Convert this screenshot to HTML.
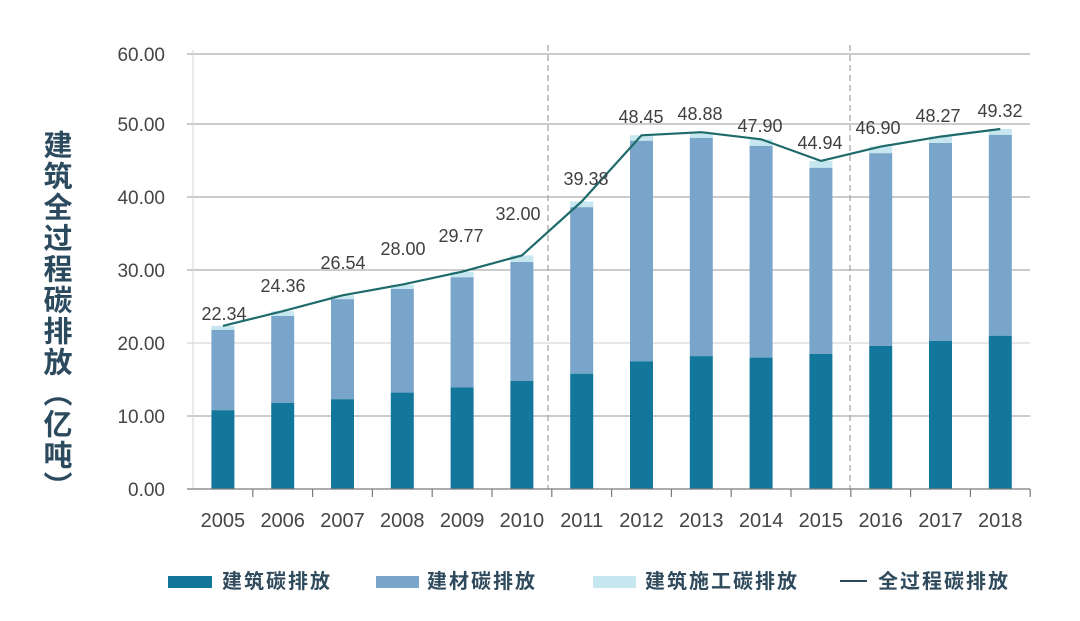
<!DOCTYPE html>
<html>
<head>
<meta charset="utf-8">
<style>
  html,body{margin:0;padding:0;background:#fff;}
  body{width:1080px;height:621px;position:relative;overflow:hidden;}
  svg{position:absolute;left:0;top:0;}
  .title{position:absolute;left:40px;top:130px;writing-mode:vertical-rl;
    font-family:"Liberation Sans","Noto Sans CJK SC",sans-serif;font-weight:bold;
    font-size:29px;line-height:29px;letter-spacing:2px;color:#2c4a5e;}
</style>
</head>
<body>
<svg width="1080" height="621" viewBox="0 0 1080 621" xmlns="http://www.w3.org/2000/svg">
  <g stroke="#9a9a9a" stroke-width="1">
    <line x1="187" y1="54" x2="1030" y2="54"/>
    <line x1="187" y1="124" x2="1030" y2="124"/>
    <line x1="187" y1="197" x2="1030" y2="197"/>
    <line x1="187" y1="270" x2="1030" y2="270"/>
    <line x1="187" y1="343" x2="1030" y2="343" stroke="#cfcfcf"/>
    <line x1="187" y1="416" x2="1030" y2="416"/>
  </g>
  <line x1="193" y1="50" x2="193" y2="489" stroke="#d4d4d4" stroke-width="1"/>
  <g stroke="#a0a0a0" stroke-width="1.2" stroke-dasharray="6,4">
    <line x1="548" y1="45" x2="548" y2="489"/>
    <line x1="850" y1="45" x2="850" y2="489"/>
  </g>
  <g>
    <rect x="211.4" y="325.9" width="23" height="4.0" fill="#c6e7ef"/>
    <rect x="211.4" y="329.9" width="23" height="80.3" fill="#7aa5ca"/>
    <rect x="211.4" y="410.2" width="23" height="78.8" fill="#13779c"/>
    <rect x="271.2" y="311.2" width="23" height="4.8" fill="#c6e7ef"/>
    <rect x="271.2" y="316.0" width="23" height="86.9" fill="#7aa5ca"/>
    <rect x="271.2" y="402.9" width="23" height="86.1" fill="#13779c"/>
    <rect x="331.0" y="295.3" width="23" height="3.9" fill="#c6e7ef"/>
    <rect x="331.0" y="299.2" width="23" height="100.0" fill="#7aa5ca"/>
    <rect x="331.0" y="399.2" width="23" height="89.8" fill="#13779c"/>
    <rect x="390.8" y="284.6" width="23" height="4.4" fill="#c6e7ef"/>
    <rect x="390.8" y="289.0" width="23" height="103.6" fill="#7aa5ca"/>
    <rect x="390.8" y="392.6" width="23" height="96.4" fill="#13779c"/>
    <rect x="450.6" y="271.7" width="23" height="5.6" fill="#c6e7ef"/>
    <rect x="450.6" y="277.3" width="23" height="110.2" fill="#7aa5ca"/>
    <rect x="450.6" y="387.5" width="23" height="101.5" fill="#13779c"/>
    <rect x="510.4" y="255.4" width="23" height="6.6" fill="#c6e7ef"/>
    <rect x="510.4" y="262.0" width="23" height="119.0" fill="#7aa5ca"/>
    <rect x="510.4" y="381.0" width="23" height="108.0" fill="#13779c"/>
    <rect x="570.2" y="201.5" width="23" height="5.7" fill="#c6e7ef"/>
    <rect x="570.2" y="207.2" width="23" height="166.5" fill="#7aa5ca"/>
    <rect x="570.2" y="373.7" width="23" height="115.3" fill="#13779c"/>
    <rect x="630.0" y="135.3" width="23" height="5.5" fill="#c6e7ef"/>
    <rect x="630.0" y="140.8" width="23" height="220.5" fill="#7aa5ca"/>
    <rect x="630.0" y="361.3" width="23" height="127.7" fill="#13779c"/>
    <rect x="689.8" y="132.2" width="23" height="5.7" fill="#c6e7ef"/>
    <rect x="689.8" y="137.9" width="23" height="218.2" fill="#7aa5ca"/>
    <rect x="689.8" y="356.1" width="23" height="132.9" fill="#13779c"/>
    <rect x="749.6" y="139.3" width="23" height="6.6" fill="#c6e7ef"/>
    <rect x="749.6" y="145.9" width="23" height="211.7" fill="#7aa5ca"/>
    <rect x="749.6" y="357.6" width="23" height="131.4" fill="#13779c"/>
    <rect x="809.4" y="160.9" width="23" height="6.9" fill="#c6e7ef"/>
    <rect x="809.4" y="167.8" width="23" height="186.2" fill="#7aa5ca"/>
    <rect x="809.4" y="354.0" width="23" height="135.0" fill="#13779c"/>
    <rect x="869.2" y="146.6" width="23" height="6.6" fill="#c6e7ef"/>
    <rect x="869.2" y="153.2" width="23" height="192.7" fill="#7aa5ca"/>
    <rect x="869.2" y="345.9" width="23" height="143.1" fill="#13779c"/>
    <rect x="929.0" y="136.6" width="23" height="6.4" fill="#c6e7ef"/>
    <rect x="929.0" y="143.0" width="23" height="197.8" fill="#7aa5ca"/>
    <rect x="929.0" y="340.8" width="23" height="148.2" fill="#13779c"/>
    <rect x="988.8" y="129.0" width="23" height="5.9" fill="#c6e7ef"/>
    <rect x="988.8" y="134.9" width="23" height="200.8" fill="#7aa5ca"/>
    <rect x="988.8" y="335.7" width="23" height="153.3" fill="#13779c"/>
  </g>
  <line x1="187" y1="489" x2="1030" y2="489" stroke="#7a7a7a" stroke-width="1.2"/>
  <g stroke="#7a7a7a" stroke-width="1.2">
    <line x1="252.8" y1="489" x2="252.8" y2="497"/>
    <line x1="312.6" y1="489" x2="312.6" y2="497"/>
    <line x1="372.4" y1="489" x2="372.4" y2="497"/>
    <line x1="432.2" y1="489" x2="432.2" y2="497"/>
    <line x1="492.0" y1="489" x2="492.0" y2="497"/>
    <line x1="551.8" y1="489" x2="551.8" y2="497"/>
    <line x1="611.6" y1="489" x2="611.6" y2="497"/>
    <line x1="671.4" y1="489" x2="671.4" y2="497"/>
    <line x1="731.2" y1="489" x2="731.2" y2="497"/>
    <line x1="791.0" y1="489" x2="791.0" y2="497"/>
    <line x1="850.8" y1="489" x2="850.8" y2="497"/>
    <line x1="910.6" y1="489" x2="910.6" y2="497"/>
    <line x1="970.4" y1="489" x2="970.4" y2="497"/>
    <line x1="1030.2" y1="489" x2="1030.2" y2="497"/>
  </g>
  <polyline fill="none" stroke="#1f6b6b" stroke-width="2.2" stroke-linejoin="round"
    points="222.9,325.9 282.7,311.2 342.5,295.3 402.3,284.6 462.1,271.7 521.9,255.4 581.7,201.5 641.5,135.3 701.3,132.2 761.1,139.3 820.9,160.9 880.7,146.6 940.5,136.6 1000.3,129.0"/>
  <g font-family="Liberation Sans, sans-serif" font-size="19" fill="#454545" text-anchor="end">
    <text x="165" y="61">60.00</text>
    <text x="165" y="131">50.00</text>
    <text x="165" y="204">40.00</text>
    <text x="165" y="277">30.00</text>
    <text x="165" y="350">20.00</text>
    <text x="165" y="423">10.00</text>
    <text x="165" y="496">0.00</text>
  </g>
  <g font-family="Liberation Sans, sans-serif" font-size="20" fill="#454545" text-anchor="middle">
    <text x="222.9" y="527">2005</text>
    <text x="282.7" y="527">2006</text>
    <text x="342.5" y="527">2007</text>
    <text x="402.3" y="527">2008</text>
    <text x="462.1" y="527">2009</text>
    <text x="521.9" y="527">2010</text>
    <text x="581.7" y="527">2011</text>
    <text x="641.5" y="527">2012</text>
    <text x="701.3" y="527">2013</text>
    <text x="761.1" y="527">2014</text>
    <text x="820.9" y="527">2015</text>
    <text x="880.7" y="527">2016</text>
    <text x="940.5" y="527">2017</text>
    <text x="1000.3" y="527">2018</text>
  </g>
  <g font-family="Liberation Sans, sans-serif" font-size="18" fill="#404040" text-anchor="middle">
    <text x="224" y="320">22.34</text>
    <text x="283" y="292">24.36</text>
    <text x="343" y="269">26.54</text>
    <text x="403" y="255">28.00</text>
    <text x="461" y="242">29.77</text>
    <text x="518" y="220">32.00</text>
    <text x="586" y="185">39.38</text>
    <text x="641" y="123">48.45</text>
    <text x="700" y="120">48.88</text>
    <text x="760" y="132">47.90</text>
    <text x="820" y="149">44.94</text>
    <text x="878" y="134">46.90</text>
    <text x="938" y="122">48.27</text>
    <text x="1000" y="117">49.32</text>
  </g>
  <rect x="168" y="576" width="44" height="12" fill="#13779c"/>
  <rect x="376" y="576" width="43" height="12" fill="#7aa5ca"/>
  <rect x="593" y="576" width="43" height="12" fill="#c6e7ef"/>
  <line x1="840" y1="581" x2="867" y2="581" stroke="#2c4a5e" stroke-width="2"/>
  <g font-family="Liberation Sans, Noto Sans CJK SC, sans-serif" font-size="20" font-weight="bold" fill="#2f4a5c" letter-spacing="2">
    <text x="222" y="588">建筑碳排放</text>
    <text x="427" y="588">建材碳排放</text>
    <text x="645" y="588">建筑施工碳排放</text>
    <text x="878" y="588">全过程碳排放</text>
  </g>
</svg>
<div class="title">建筑全过程碳排放（亿吨）</div>
</body>
</html>
